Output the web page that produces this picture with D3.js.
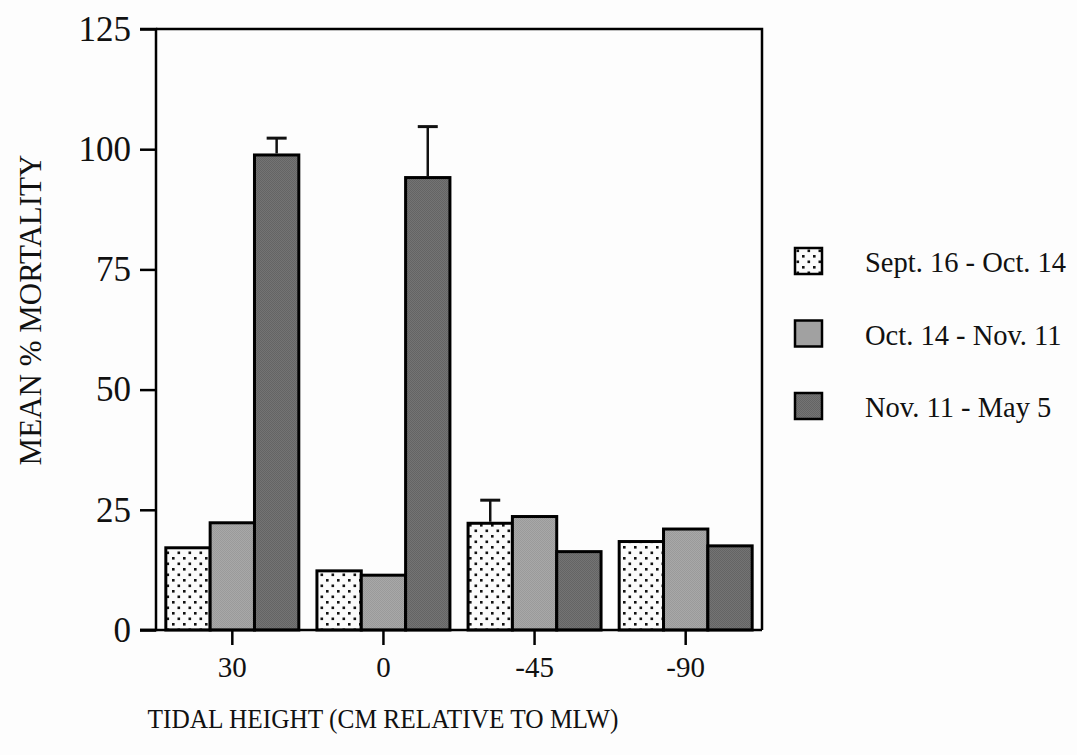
<!DOCTYPE html>
<html>
<head>
<meta charset="utf-8">
<script src="https://cdn.jsdelivr.net/npm/d3@7"></script>
<style>
  html, body { margin: 0; padding: 0; background: #fdfdfd; }
  svg { display: block; }
  text { font-family: "Liberation Serif", "DejaVu Serif", serif; fill: #111; }
</style>
</head>
<body>
<svg id="chart" width="1077" height="755"></svg>
<script>
// Tidal heights (cm relative to MLW) and sampling periods
const heights = ["30", "0", "-45", "-90"];
const periods = ["Sept. 16 - Oct. 14", "Oct. 14 - Nov. 11", "Nov. 11 - May 5"];

// Mean % mortality per period, one value per tidal height
const septOct = [17.1, 12.3, 22.2, 18.4];
const octNov  = [22.3, 11.4, 23.6, 21.0];
const novMay  = [98.8, 94.1, 16.3, 17.5];

// Upper error (SE) where shown; null means no error bar drawn
const septOctErr = [null, null, 4.8, null];
const octNovErr  = [null, null, null, null];
const novMayErr  = [3.5, 10.6, null, null];

const yTicks = [0, 25, 50, 75, 100, 125];

const seriesValues = [septOct, octNov, novMay];
const seriesErrors = [septOctErr, octNovErr, novMayErr];

const svg = d3.select("#chart");
const margin = { left: 156, right: 315, top: 29, bottom: 125 };
const W = 1077, H = 755;
const x0 = margin.left, x1 = W - margin.right, yTop = margin.top, yBot = H - margin.bottom;

// Fill patterns
const defs = svg.append("defs");
const dots = defs.append("pattern")
  .attr("id", "dots").attr("patternUnits", "userSpaceOnUse")
  .attr("width", 11).attr("height", 11);
dots.append("rect").attr("width", 11).attr("height", 11).attr("fill", "#fbfbfb");
dots.append("rect").attr("x", 1.5).attr("y", 1.5).attr("width", 2.6).attr("height", 2.6).attr("fill", "#111");
dots.append("rect").attr("x", 7).attr("y", 7).attr("width", 2.6).attr("height", 2.6).attr("fill", "#111");

function dither(id, a, b) {
  const p = defs.append("pattern").attr("id", id).attr("patternUnits", "userSpaceOnUse")
    .attr("width", 2).attr("height", 2);
  p.append("rect").attr("width", 2).attr("height", 2).attr("fill", a);
  p.append("rect").attr("width", 1).attr("height", 1).attr("fill", b);
  p.append("rect").attr("x", 1).attr("y", 1).attr("width", 1).attr("height", 1).attr("fill", b);
}
dither("midgray", "#a8a8a8", "#9a9a9a");
dither("darkgray", "#747474", "#646464");
const fills = ["url(#dots)", "url(#midgray)", "url(#darkgray)"];

// Scales
const x = d3.scaleBand().domain(heights).range([x0, x1]).paddingInner(0.12).paddingOuter(0.065);
const xs = d3.scaleBand().domain(d3.range(periods.length)).range([0, x.bandwidth()]);
const y = d3.scaleLinear().domain([0, 125]).range([yBot, yTop]);

// Bars
const g = svg.append("g");
heights.forEach((h, i) => {
  seriesValues.forEach((vals, s) => {
    g.append("rect")
      .attr("x", x(h) + xs(s))
      .attr("y", y(vals[i]))
      .attr("width", xs.bandwidth())
      .attr("height", y(0) - y(vals[i]))
      .attr("fill", fills[s])
      .attr("stroke", "#000")
      .attr("stroke-width", 3);
    const e = seriesErrors[s][i];
    if (e != null) {
      const cx = x(h) + xs(s) + xs.bandwidth() / 2;
      g.append("line").attr("x1", cx).attr("x2", cx)
        .attr("y1", y(vals[i]) - 1.5).attr("y2", y(vals[i] + e))
        .attr("stroke", "#111").attr("stroke-width", 2.5);
      g.append("line").attr("x1", cx - 10).attr("x2", cx + 10)
        .attr("y1", y(vals[i] + e)).attr("y2", y(vals[i] + e))
        .attr("stroke", "#111").attr("stroke-width", 3);
    }
  });
});

// Frame (top and right)
svg.append("path")
  .attr("d", `M${x0},${yTop}H${x1}V${yBot}`)
  .attr("fill", "none").attr("stroke", "#000").attr("stroke-width", 2.5);

// Y axis
const yAxis = svg.append("g").attr("transform", `translate(${x0},0)`)
  .call(d3.axisLeft(y).tickValues(yTicks).tickSize(16).tickPadding(9).tickFormat(d3.format("d")));
yAxis.select(".domain").attr("stroke-width", 2.5).attr("d", `M-16,${yTop}H0V${yBot}H-16`);
yAxis.selectAll(".tick line").attr("stroke-width", 2.5);
yAxis.selectAll(".tick text").attr("font-size", 35).attr("font-family", "Liberation Serif").attr("fill", "#111");

// X axis
const xAxis = svg.append("g").attr("transform", `translate(0,${yBot})`)
  .call(d3.axisBottom(x).tickSize(15).tickPadding(11));
xAxis.select(".domain").attr("stroke-width", 2.5).attr("d", `M${x0 - 16},0H${x1}`);
xAxis.selectAll(".tick line").attr("stroke-width", 2.5);
xAxis.selectAll(".tick text").attr("font-size", 29).attr("font-family", "Liberation Serif").attr("fill", "#111");

// Axis titles
svg.append("text")
  .attr("x", 383).attr("y", 728)
  .attr("text-anchor", "middle").attr("font-size", 28)
  .attr("textLength", 471).attr("lengthAdjust", "spacingAndGlyphs")
  .text("TIDAL HEIGHT (CM RELATIVE TO MLW)");
svg.append("text")
  .attr("transform", "translate(41,310) rotate(-90)")
  .attr("text-anchor", "middle").attr("font-size", 31)
  .text("MEAN % MORTALITY");

// Legend
const legend = svg.append("g").attr("transform", "translate(795,248)");
periods.forEach((p, s) => {
  const row = legend.append("g").attr("transform", `translate(0,${s * 72.5})`);
  row.append("rect").attr("x", 0).attr("y", 0).attr("width", 27).attr("height", 26)
    .attr("fill", fills[s]).attr("stroke", "#000").attr("stroke-width", 2.5);
  row.append("text").attr("x", 70).attr("y", 24).attr("font-size", 28.5).text(p);
});
</script>
</body>
</html>
